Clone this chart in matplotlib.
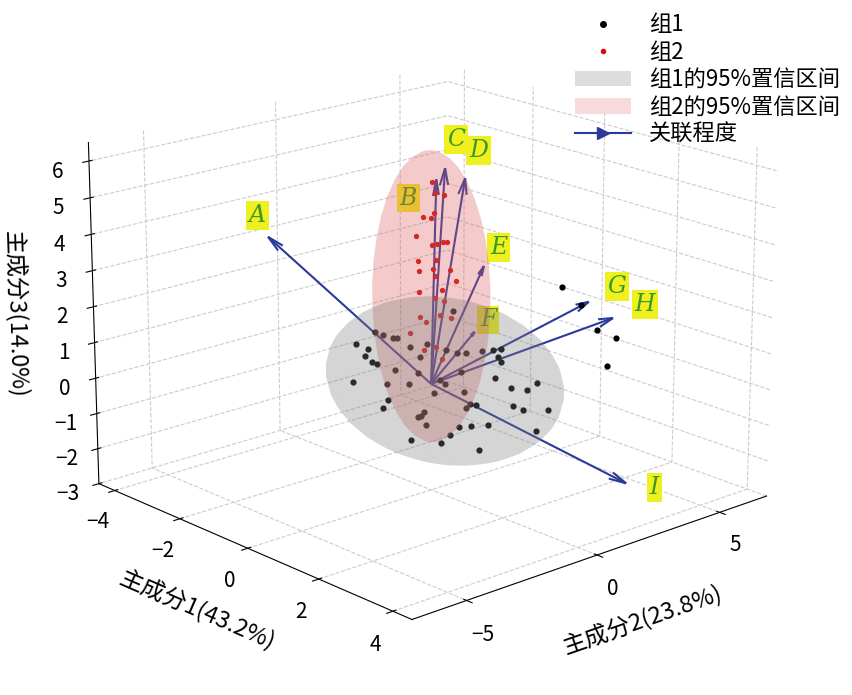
import matplotlib.pyplot as plt
import numpy as np

plt.rcParams['font.family'] = ['Noto Sans CJK SC', 'DejaVu Sans']

# group 1 scores (PC1, PC2, PC3)
g1_x = [0.1, -0.5, 0.8, -1.2, 1.5, 0.3, -0.8, 1.1, -1.6, 0.6, -0.2, 1.9, -1.0, 0.4, -0.7,
        1.3, -1.4, 0.9, -0.3, 0.2, 2.1, -1.9, 0.7, -0.6, 1.6, -1.1, 0.0, 0.5, -0.4, 1.0,
        -0.9, 1.4, -1.5, 0.8, -0.1, 1.8, -1.8, 0.3, -0.6, 1.2, 2.4, 1.7, 2.8, 2.2, 1.0,
        -2.2, 0.6, -0.5, 0.9, -1.3, 0.2, 1.5, -0.8, 0.4, -0.2, 1.1, -1.0, 0.7, 0.0, -0.4]
g1_y = [0.2, 0.8, -0.6, 0.3, 1.1, -1.2, -0.4, 0.7, 1.4, 1.8, -1.6, -0.2, 1.0, 2.2, -0.9,
        -1.1, 0.5, 1.5, 2.0, -2.0, 0.6, 0.1, 0.9, -1.5, 1.9, -0.7, 1.3, -0.3, 0.4, 2.4,
        -1.8, 0.0, 1.2, -1.4, 2.6, 1.6, -0.5, 2.8, 1.7, -2.2, 3.1, 3.5, 2.9, 4.2, 3.8,
        0.9, -2.5, 2.1, 0.3, -0.8, 1.1, 2.5, 0.6, -1.0, 1.4, -0.4, 2.0, 0.8, -0.2, 1.6]
g1_z = [0.1, -0.6, 0.4, 0.8, -0.3, -1.2, 1.1, -0.9, 0.2, 0.6, -0.4, 0.9, -1.5, 0.3, 1.3,
        -0.7, -0.2, 1.0, -1.1, 0.5, -0.1, 0.3, -1.8, 0.7, 0.2, 1.2, -0.5, -1.4, 0.9, -0.3,
        0.1, 1.4, -0.8, -0.2, 0.4, -1.0, 0.6, -0.6, 1.5, 0.0, 1.7, 2.1, 0.9, 1.2, 2.3,
        -0.4, 0.3, -1.3, -0.9, 0.5, 0.7, -0.7, -0.1, 1.1, -1.6, 0.8, 0.2, -0.5, -1.1, 0.4]

# group 2 scores
g2_x = [0.0, -0.3, 0.2, 0.4, -0.2, 0.1, -0.4, 0.3, 0.0, -0.1, 0.5, -0.5, 0.2, -0.2, 0.1,
        0.3, -0.3, 0.0, 0.4, -0.1, 0.2, -0.4, 0.1, 0.0, -0.2, 0.3, -0.1, 0.2, 0.0, 0.1]
g2_y = [0.2, -0.4, 0.5, -0.2, 0.7, -0.6, 0.1, 0.3, -0.5, 0.6, -0.1, 0.4, -0.3, 0.8, 0.0,
        -0.7, 0.2, 0.5, -0.4, 0.3, -0.2, 0.6, 0.1, -0.6, 0.4, 0.0, -0.3, 0.7, 0.2, -0.1]
g2_z = [1.0, 1.4, 1.8, 2.1, 2.4, 2.7, 3.0, 3.2, 3.5, 3.8, 4.1, 4.4, 4.7, 5.0, 5.3,
        1.2, 1.6, 2.2, 2.6, 2.9, 3.3, 3.6, 3.9, 4.2, 4.6, 0.8, 1.9, 2.8, 3.4, 5.6]

# confidence ellipsoids: centre and semi-axes
ell1_centre, ell1_radii = (0.0, 0.5, 0.0), (2.6, 3.0, 2.1)
ell2_centre, ell2_radii = (0.0, 0.0, 2.4), (1.2, 1.6, 4.0)

# loading arrows
labels = ['A', 'B', 'C', 'D', 'E', 'F', 'G', 'H', 'I']
arr_x = [-4.0, 0.0, 0.1, 0.3, 0.2, 0.3, 1.2, 1.6, 3.3]
arr_y = [-1.0, 0.2, 0.4, 0.9, 1.8, 1.3, 4.6, 5.0, 3.0]
arr_z = [3.0, 5.6, 5.9, 5.6, 3.0, 1.3, 1.8, 1.4, -2.2]


def ellipsoid(ax, centre, radii, color):
    """Draw a translucent ellipsoid."""
    u = np.linspace(0, 2 * np.pi, 40)
    v = np.linspace(0, np.pi, 20)
    x = centre[0] + radii[0] * np.outer(np.cos(u), np.sin(v))
    y = centre[1] + radii[1] * np.outer(np.sin(u), np.sin(v))
    z = centre[2] + radii[2] * np.outer(np.ones_like(u), np.cos(v))
    ax.plot_surface(x, y, z, color=color, alpha=0.18, linewidth=0, shade=False)


fig = plt.figure(figsize=(8.53, 6.95), dpi=100)
ax = fig.add_axes([0.07, 0.05, 0.85, 0.95], projection='3d')
ax.view_init(elev=18, azim=-42)
ax.set_box_aspect(None, zoom=1.13)

ellipsoid(ax, ell1_centre, ell1_radii, 'grey')
ellipsoid(ax, ell2_centre, ell2_radii, '#e06060')
ax.scatter(g1_x, g1_y, g1_z, c='black', s=12, depthshade=False)
ax.scatter(g2_x, g2_y, g2_z, c='#d01010', s=8, depthshade=False)

for lab, x, y, z in zip(labels, arr_x, arr_y, arr_z):
    ax.quiver(0, 0, 0, x, y, z, color='#2b3a9a', linewidth=1.5,
              arrow_length_ratio=0.08)
    if lab == 'B':  # keep B clear of C
        ax.text(-0.3, -0.8, 5.0, lab, fontsize=17, style='italic',
                color='#3a9a20', family='DejaVu Serif',
                bbox=dict(facecolor='#f0f020', edgecolor='none', pad=2))
        continue
    ax.text(x * 1.12, y * 1.12, z * 1.1, lab, fontsize=17, style='italic',
            color='#3a9a20', family='DejaVu Serif',
            bbox=dict(facecolor='#f0f020', edgecolor='none', pad=2))

ax.set_xlim(-4.5, 4.5)
ax.set_ylim(-7, 7)
ax.set_zlim(-3, 6.5)
ax.set_xticks([-4, -2, 0, 2, 4])
ax.set_yticks([-5, 0, 5])
ax.set_zticks([-3, -2, -1, 0, 1, 2, 3, 4, 5, 6])
ax.zaxis.set_ticks_position('lower')
ax.zaxis.set_label_position('lower')
ax.tick_params(labelsize=15)
ax.set_xlabel('主成分1(43.2%)', fontsize=17, labelpad=12)
ax.set_ylabel('主成分2(23.8%)', fontsize=17, labelpad=12)
ax.set_zlabel('主成分3(14.0%)', fontsize=17, labelpad=8)
for axis in (ax.xaxis, ax.yaxis, ax.zaxis):
    axis.set_pane_color((1, 1, 1, 0))
    axis._axinfo['grid'].update(color='#cccccc', linestyle='--', linewidth=0.8)

handles = [
    plt.Line2D([], [], marker='o', color='black', linestyle='none', markersize=4),
    plt.Line2D([], [], marker='o', color='#d01010', linestyle='none', markersize=3),
    plt.Rectangle((0, 0), 1, 1, facecolor='#dddddd'),
    plt.Rectangle((0, 0), 1, 1, facecolor='#f8dada'),
    plt.Line2D([], [], color='#2b3a9a', marker='>', markersize=9),
]
fig.legend(handles, ['组1', '组2', '组1的95%置信区间', '组2的95%置信区间', '关联程度'],
           loc='upper right', bbox_to_anchor=(1.0, 1.0), frameon=False, fontsize=16,
           handlelength=2.5, labelspacing=0.2, borderaxespad=0.2)

fig.savefig('out.png')
